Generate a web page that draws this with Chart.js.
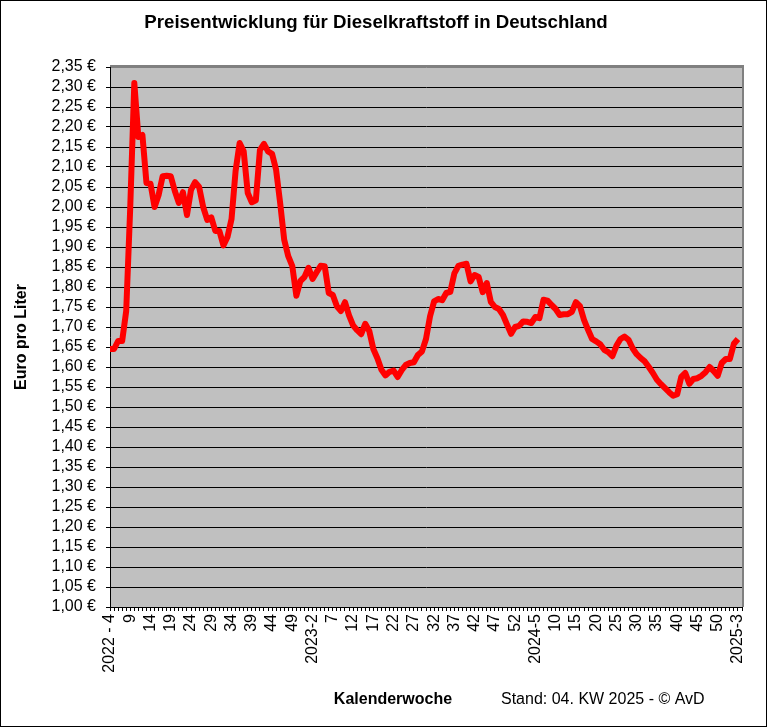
<!DOCTYPE html>
<html lang="de">
<head>
<meta charset="utf-8">
<title>Dieselpreis</title>
<script src="https://cdn.jsdelivr.net/npm/chart.js@4.4.1/dist/chart.umd.min.js"></script>
<style>
  body { margin: 0; background: #fff; }
  canvas { display: block; }
</style>
</head>
<body>
<canvas id="chartDiesel" width="767" height="727"></canvas>
<script>
// Durchschnittspreise Diesel (Euro pro Liter), je Kalenderwoche
const preise2022 = [
  1.645, 1.645, 1.665, 1.665, 1.74, 2.00, 2.31, 2.175, 2.18, 2.06,
  2.058, 2.00, 2.03, 2.077, 2.078, 2.077, 2.04, 2.01, 2.037, 1.98,
  2.043, 2.062, 2.05, 2.00, 1.968, 1.974, 1.94, 1.94, 1.904, 1.925,
  1.97, 2.09, 2.16, 2.139, 2.035, 2.012, 2.017, 2.142, 2.158, 2.139,
  2.133, 2.093, 2.01, 1.918, 1.877, 1.852, 1.778, 1.815, 1.825
] // KW 4 - 52
const preise2023 = [
  1.848, 1.82, 1.837, 1.853, 1.852, 1.785, 1.78, 1.752, 1.74, 1.762,
  1.729, 1.704, 1.692, 1.682, 1.708, 1.69, 1.645, 1.622, 1.593, 1.579,
  1.588, 1.591, 1.575, 1.592, 1.605, 1.61, 1.612, 1.63, 1.639, 1.67,
  1.727, 1.764, 1.77, 1.767, 1.785, 1.788, 1.834, 1.853, 1.856, 1.858,
  1.814, 1.83, 1.825, 1.787, 1.81, 1.763, 1.75, 1.745, 1.73, 1.706,
  1.683, 1.70
] // KW 1 - 52
const preise2024 = [
  1.703, 1.714, 1.713, 1.71, 1.725, 1.722, 1.768, 1.766, 1.755, 1.745,
  1.73, 1.732, 1.732, 1.738, 1.762, 1.752, 1.718, 1.693, 1.67, 1.664,
  1.657, 1.643, 1.637, 1.627, 1.653, 1.67, 1.676, 1.668, 1.647, 1.632,
  1.622, 1.614, 1.60, 1.585, 1.568, 1.557, 1.547, 1.537, 1.528, 1.532,
  1.575, 1.585, 1.558, 1.57, 1.572, 1.578, 1.587, 1.60, 1.59, 1.578,
  1.61, 1.62
] // KW 1 - 52
const preise2025 = [1.62, 1.658, 1.67] // KW 1 - 3

// Kalenderwochen 2022-4 bis 2025-4 (KW 4/2025 = Stand, noch ohne Wert)
const kalenderwochen = []
for (let jahr = 2022; jahr <= 2025; jahr++) {
  let von = jahr === 2022 ? 4 : 1
  let bis = jahr === 2025 ? 4 : 52
  for (let kw = von; kw <= bis; kw++) {
    kalenderwochen.push(jahr + '-' + kw)
  }
}

const titel = 'Preisentwicklung für Dieselkraftstoff in Deutschland'
const yTitel = 'Euro pro Liter'
const xTitel = 'Kalenderwoche'
const stand = 'Stand: 04. KW 2025 - © AvD'

const schrift = "'Liberation Sans', Arial, sans-serif"
Chart.defaults.font.family = schrift
Chart.defaults.color = '#000'

const preise = preise2022.concat(preise2023, preise2024, preise2025)

function kwLabel(val, i) {
  if (i % 5 !== 0) return ''
  let teile = kalenderwochen[i].split('-')
  if (i === 0) return teile[0] + ' - ' + teile[1]
  let vorher = kalenderwochen[i - 5].split('-')[0]
  return vorher !== teile[0] ? teile[0] + '-' + teile[1] : teile[1]
}

const rahmen = {
  id: 'rahmen',
  beforeDraw(chart) {
    const ctx = chart.ctx
    const a = chart.chartArea
    ctx.save()
    ctx.fillStyle = '#fff'
    ctx.fillRect(0, 0, chart.width, chart.height)
    ctx.fillStyle = '#c0c0c0'
    ctx.fillRect(a.left, a.top, a.right - a.left, a.bottom - a.top)
    ctx.restore()
  },
  afterDraw(chart) {
    const ctx = chart.ctx
    const a = chart.chartArea
    ctx.save()
    // grauer Rand oben und rechts
    ctx.strokeStyle = '#808080'
    ctx.lineWidth = 2
    ctx.beginPath()
    ctx.moveTo(a.left, a.top - 1)
    ctx.lineTo(a.right + 1, a.top - 1)
    ctx.lineTo(a.right + 1, a.bottom)
    ctx.stroke()
    // Rahmen um das Diagramm
    ctx.strokeStyle = '#000'
    ctx.lineWidth = 1
    ctx.strokeRect(0.5, 0.5, chart.width - 1, chart.height - 1)
    // Texte
    ctx.fillStyle = '#000'
    ctx.textBaseline = 'middle'
    ctx.textAlign = 'center'
    ctx.font = 'bold 18.67px ' + schrift
    ctx.fillText(titel, 376, 23)
    ctx.font = 'bold 16px ' + schrift
    ctx.fillText(xTitel, 393, 700)
    ctx.textAlign = 'left'
    ctx.font = '16px ' + schrift
    ctx.fillText(stand, 501, 700)
    ctx.restore()
  }
}

const data = {
  labels: kalenderwochen,
  datasets: [{
    label: 'Diesel',
    data: preise,
    borderColor: '#ff0000',
    backgroundColor: '#ff0000',
    borderWidth: 6,
    borderJoinStyle: 'round',
    pointRadius: 0,
    tension: 0,
    fill: false
  }]
}

const options = {
  responsive: false,
  animation: false,
  layout: { padding: { top: 67, right: 25, bottom: 0, left: 0 } },
  plugins: {
    legend: { display: false },
    tooltip: { enabled: false }
  },
  scales: {
    x: {
      type: 'category',
      offset: false,
      afterFit: function (scale) { scale.height = 120 },
      grid: {
        drawOnChartArea: false,
        drawTicks: true,
        tickLength: 4,
        color: '#000',
        offset: false
      },
      border: { display: true, color: '#000', width: 1 },
      ticks: {
        autoSkip: false,
        minRotation: 90,
        maxRotation: 90,
        padding: 3,
        font: { size: 16 },
        callback: kwLabel
      }
    },
    y: {
      min: 1.0,
      max: 2.35,
      afterFit: function (scale) { scale.width = 110 },
      grid: {
        color: function (c) {
          return Math.abs(c.tick.value - 2.35) < 1e-6 ? '#808080' : '#000'
        },
        tickColor: '#000',
        tickLength: 4,
        lineWidth: 1
      },
      border: { display: true, color: '#000', width: 1 },
      title: {
        display: true,
        text: yTitel,
        font: { size: 16, weight: 'bold' },
        padding: { top: 12, bottom: 0 }
      },
      ticks: {
        stepSize: 0.05,
        autoSkip: false,
        padding: 10,
        font: { size: 16 },
        callback: function (v) {
          return v.toFixed(2).replace('.', ',') + ' €'
        }
      }
    }
  }
}

const chartDiesel = new Chart(document.getElementById('chartDiesel'), {
  type: 'line',
  data: data,
  options: options,
  plugins: [rahmen]
})
</script>
</body>
</html>
